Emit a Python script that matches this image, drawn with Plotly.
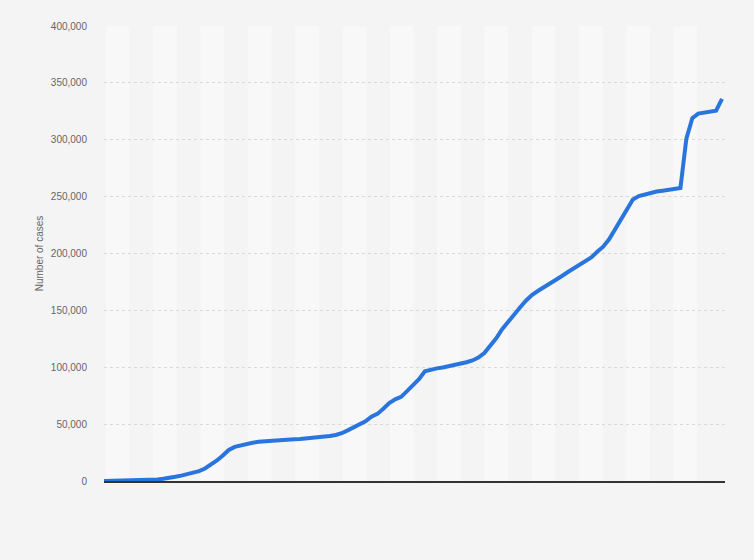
import plotly.graph_objects as go

# Sample index (equally spaced observations)
day_index = list(range(105))

# Cumulative number of cases
cases = [
    0, 60, 120, 200, 260, 380, 520, 680, 850, 1300,
    2000, 2600, 3700, 4700, 5800, 7300, 8700, 11000, 14000, 18000,
    22500, 27300, 30000, 31500, 32700, 33600, 34500, 35000, 35400, 35800,
    36200, 36400, 36700, 37000, 37400, 37700, 38000, 38700, 39500, 40500,
    42000, 44500, 47300, 50000, 52500, 56500, 59000, 63500, 68500, 71800,
    74000, 79000, 84000, 89500, 96500, 98000, 99000, 99800, 100800, 101800,
    103000, 104400, 106000, 108500, 112500, 118500, 125500, 133500, 140300, 146500,
    152500, 158500, 163500, 167000, 170000, 173000, 176300, 180000, 183500, 186500,
    189500, 193000, 196500, 201500, 206000, 212500, 221000, 230000, 239500, 247500,
    250500, 252000, 253500, 254500, 255200, 256000, 256600, 257500, 301000, 319000,
    323000, 323800, 324200, 325500, 336000,
]

y_ticks = [0, 50000, 100000, 150000, 200000, 250000, 300000, 350000, 400000]

# background band layout (in index units)
band_width = 3.98
band_offset = 0.34
n_light_bands = 13

fig = go.Figure()
fig.add_trace(go.Scatter(
    x=day_index, y=cases, mode="lines",
    line=dict(color="#2a75dd", width=4),
    hoverinfo="skip", showlegend=False,
))

shapes = []
for k in range(n_light_bands):
    x0 = band_offset + 2 * k * band_width
    shapes.append(dict(type="rect", xref="x", yref="paper",
                       x0=x0, x1=x0 + band_width, y0=0, y1=1,
                       fillcolor="#f8f8f8", line=dict(width=0), layer="below"))

fig.update_layout(
    width=754, height=560,
    margin=dict(l=96, r=37, t=12, b=87),
    paper_bgcolor="#f4f4f4", plot_bgcolor="#f4f4f4",
    shapes=shapes,
    font=dict(family="Liberation Sans, Arial, sans-serif", size=10, color="#666666"),
    xaxis=dict(range=[0, 104.5], showgrid=False, zeroline=False,
               showticklabels=False, ticks="",
               showline=True, linecolor="#333333", linewidth=1.5, fixedrange=True),
    yaxis=dict(range=[0, 400000], tickvals=y_ticks, tickformat=",d",
               showgrid=True, gridcolor="#d9d9d9", griddash="dot", gridwidth=1,
               zeroline=False, showline=False, ticks="",
               ticklabelstandoff=16,
               tickfont=dict(size=10, color="#666666"),
               title=dict(text="Number of cases", font=dict(size=10, color="#666666"),
                          standoff=5),
               fixedrange=True),
)

fig.write_html("out.html", config={"displayModeBar": False},
               post_script="document.body.style.background='#f4f4f4';")
